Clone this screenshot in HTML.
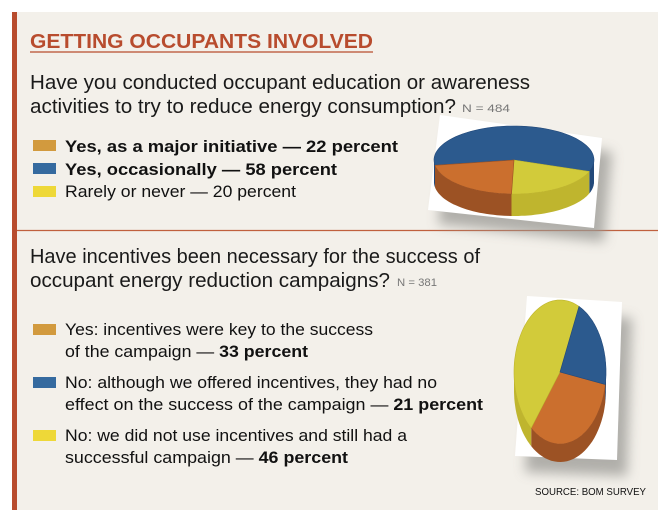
<!DOCTYPE html>
<html><head><meta charset="utf-8"><style>
html,body{margin:0;padding:0;background:#fff;}
svg{display:block;font-family:"Liberation Sans",sans-serif;}
</style></head><body>
<svg id="chart" width="672" height="520" viewBox="0 0 672 520" xmlns="http://www.w3.org/2000/svg">
<defs>
<filter id="blur" x="-30%" y="-30%" width="160%" height="160%"><feGaussianBlur stdDeviation="6"/></filter>
</defs>
<rect x="12" y="12" width="646" height="498" fill="#f3f0ea"/>
<rect x="12" y="12" width="5" height="498" fill="#b84c2e"/>
<line x1="17" y1="230.5" x2="658" y2="230.5" stroke="#c0603e" stroke-width="1.2"/>

<text x="30" y="48" font-size="20" font-weight="bold" fill="#b84c2e" textLength="343" lengthAdjust="spacingAndGlyphs">GETTING OCCUPANTS INVOLVED</text>
<line x1="30" y1="52" x2="373" y2="52" stroke="#b84c2e" stroke-width="1.3"/>

<g fill="#1a1a1a" font-size="20">
<text x="30" y="89" textLength="500" lengthAdjust="spacingAndGlyphs">Have you conducted occupant education or awareness</text>
<text x="30" y="113" textLength="426" lengthAdjust="spacingAndGlyphs">activities to try to reduce energy consumption?</text>
<text x="462" y="112" font-size="11" fill="#777" textLength="48" lengthAdjust="spacingAndGlyphs">N = 484</text>
</g>

<g font-size="17" fill="#111">
<rect x="33" y="140" width="23" height="11" fill="#d29a3e"/>
<text x="65" y="152" font-weight="bold" textLength="333" lengthAdjust="spacingAndGlyphs">Yes, as a major initiative — 22 percent</text>
<rect x="33" y="163" width="23" height="11" fill="#356a9f"/>
<text x="65" y="175" font-weight="bold" textLength="272" lengthAdjust="spacingAndGlyphs">Yes, occasionally — 58 percent</text>
<rect x="33" y="186" width="23" height="11" fill="#eed838"/>
<text x="65" y="197" textLength="231" lengthAdjust="spacingAndGlyphs">Rarely or never — 20 percent</text>
</g>

<g fill="#1a1a1a" font-size="20">
<text x="30" y="263" textLength="450" lengthAdjust="spacingAndGlyphs">Have incentives been necessary for the success of</text>
<text x="30" y="287" textLength="360" lengthAdjust="spacingAndGlyphs">occupant energy reduction campaigns?</text>
<text x="397" y="286" font-size="11" fill="#777" textLength="40" lengthAdjust="spacingAndGlyphs">N = 381</text>
</g>

<g font-size="17" fill="#111">
<rect x="33" y="324" width="23" height="11" fill="#d29a3e"/>
<text x="65" y="335" textLength="308" lengthAdjust="spacingAndGlyphs">Yes: incentives were key to the success</text>
<text x="65" y="357" textLength="243" lengthAdjust="spacingAndGlyphs">of the campaign — <tspan font-weight="bold">33 percent</tspan></text>
<rect x="33" y="377" width="23" height="11" fill="#356a9f"/>
<text x="65" y="388" textLength="372" lengthAdjust="spacingAndGlyphs">No: although we offered incentives, they had no</text>
<text x="65" y="410" textLength="418" lengthAdjust="spacingAndGlyphs">effect on the success of the campaign — <tspan font-weight="bold">21 percent</tspan></text>
<rect x="33" y="430" width="23" height="11" fill="#eed838"/>
<text x="65" y="441" textLength="342" lengthAdjust="spacingAndGlyphs">No: we did not use incentives and still had a</text>
<text x="65" y="463" textLength="283" lengthAdjust="spacingAndGlyphs">successful campaign — <tspan font-weight="bold">46 percent</tspan></text>
</g>

<text x="535" y="495" font-size="10.5" fill="#111" textLength="111" lengthAdjust="spacingAndGlyphs">SOURCE: BOM SURVEY</text>

<g id="pie1"></g>
<g id="pie2"></g>
</svg>
<script>
const pie1Labels = ["Yes, occasionally", "Rarely or never", "Yes, as a major initiative"];
const pie1Values = [58, 20, 22];
const pie2Labels = ["Yes: incentives were key", "No: we did not use incentives", "No: no effect"];
const pie2Values = [33, 46, 21];
</script>
<script>
const NS = "http://www.w3.org/2000/svg";
function mk(tag, attrs, parent){const e=document.createElementNS(NS,tag);for(const k in attrs)e.setAttribute(k,attrs[k]);parent.appendChild(e);return e;}
function drawPie(g, values, labels, colors, sides, o){
  // backing card + shadow
  const sh = mk('polygon',{points:o.card.map(p=>(p[0]+o.shOff[0])+','+(p[1]+o.shOff[1])).join(' '),fill:'#9a9994',opacity:'0.75',filter:'url(#blur)'},g);
  
  
  const card = mk('polygon',{points:o.card.map(p=>p.join(',')).join(' '),fill:'#ffffff'},g);
  
  
  const total = values.reduce((a,b)=>a+b,0);
  const cx=o.cx, cy=o.cy, rx=o.rx, ry=o.ry, d=o.depth;
  const pt=(a,dy)=>[cx+rx*Math.cos(a*Math.PI/180), cy+ry*Math.sin(a*Math.PI/180)+(dy||0)];
  let a0=o.start;
  const slices=[];
  values.forEach((v,i)=>{const a1=a0+v/total*360;slices.push([a0,a1,i]);a0=a1;});
  // sides (visible front half: angles 0..180)
  slices.forEach(([s,e,i])=>{
    for(let k=-1;k<=2;k++){
      const lo=Math.max(s,k*360), hi=Math.min(e,k*360+180);
      if(hi<=lo) continue;
      let dstr='';const n=30;
      for(let j=0;j<=n;j++){const p=pt(lo+(hi-lo)*j/n);dstr+=(j?'L':'M')+p[0].toFixed(1)+','+p[1].toFixed(1);}
      for(let j=n;j>=0;j--){const p=pt(lo+(hi-lo)*j/n,d);dstr+='L'+p[0].toFixed(1)+','+p[1].toFixed(1);}
      const side=mk('path',{d:dstr+'Z',fill:sides[i]},g);
      
      
    }
  });
  slices.forEach(([s,e,i])=>{
    let dstr='M'+cx+','+cy;const n=60;
    for(let j=0;j<=n;j++){const p=pt(s+(e-s)*j/n);dstr+='L'+p[0].toFixed(1)+','+p[1].toFixed(1);}
    const top=mk('path',{d:dstr+'Z',fill:colors[i],stroke:sides[i],'stroke-width':'0.6'},g);
    
    
  });
}
drawPie(document.getElementById('pie1'), pie1Values, pie1Labels,
  ['#2c5a8e','#d2cb3a','#cb6f2e'], ['#22497a','#bfb52e','#9c5224'],
  {cx:514,cy:160,rx:80,ry:34,depth:22,start:171,
   card:[[440,115],[602,138],[594,228],[428,210]],shOff:[10,14]});
drawPie(document.getElementById('pie2'), pie2Values, pie2Labels,
  ['#cb6f2e','#d2cb3a','#2c5a8e'], ['#9c5224','#bfb52e','#22497a'],
  {cx:560,cy:372,rx:46,ry:72,depth:18,start:10,
   card:[[527,296],[622,302],[617,460],[515,456]],shOff:[10,16]});
</script>
</body></html>
